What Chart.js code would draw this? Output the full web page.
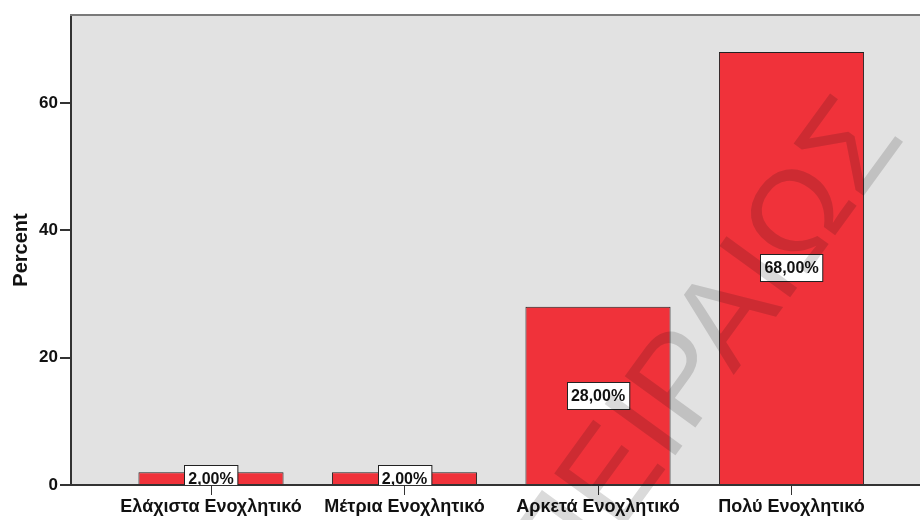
<!DOCTYPE html>
<html>
<head>
<meta charset="utf-8">
<script src="https://cdn.jsdelivr.net/npm/chart.js@4/dist/chart.umd.min.js"></script>
<style>
  html, body { margin: 0; padding: 0; background: #fff; overflow: hidden; }
  #wrap { width: 920px; height: 520px; position: relative; }
</style>
</head>
<body>
<div id="wrap"><canvas id="chart"></canvas></div>
<script>
// categories and percentages
var categories = ["Ελάχιστα Ενοχλητικό", "Μέτρια Ενοχλητικό", "Αρκετά Ενοχλητικό", "Πολύ Ενοχλητικό"];
var percents = [2, 2, 28, 68];
var yTicks = [0, 20, 40, 60];
var watermark = "ΠΕΙΡΑΙΩΣ";

var FONT = '"Liberation Sans", Arial, sans-serif';

function fmt(v) {
	return v.toFixed(2).replace(".", ",") + "%";
}

// gray plot background + top frame line
var plotFrame = {
	id: "plotFrame",
	beforeDraw: function(chart) {
		var a = chart.chartArea, ctx = chart.ctx;
		ctx.save();
		ctx.fillStyle = "#e2e2e2";
		ctx.fillRect(a.left, a.top, a.right - a.left, a.bottom - a.top);
		ctx.restore();
	},
	afterDraw: function(chart) {
		var a = chart.chartArea, ctx = chart.ctx;
		ctx.save();
		ctx.strokeStyle = "#7a7a7a";
		ctx.lineWidth = 2;
		ctx.beginPath();
		ctx.moveTo(a.left - 1, a.top);
		ctx.lineTo(a.right, a.top);
		ctx.stroke();
		ctx.restore();
	}
};

// white value boxes in the middle of each bar
var valueBoxes = {
	id: "valueBoxes",
	afterDatasetsDraw: function(chart) {
		var a = chart.chartArea, ctx = chart.ctx;
		var meta = chart.getDatasetMeta(0);
		ctx.save();
		ctx.beginPath();
		ctx.rect(a.left, a.top, a.right - a.left, a.bottom - a.top);
		ctx.clip();
		ctx.font = "bold 16px " + FONT;
		ctx.textAlign = "center";
		ctx.textBaseline = "middle";
		meta.data.forEach(function(bar, i) {
			var txt = fmt(percents[i]);
			var cy = (bar.y + bar.base) / 2;
			var w = ctx.measureText(txt).width + 8, h = 27;
			var x0 = Math.round(bar.x - w / 2) + 0.5, y0 = Math.round(cy - h / 2) + 0.5;
			ctx.fillStyle = "#fff";
			ctx.fillRect(x0, y0, w, h);
			ctx.strokeStyle = "#222";
			ctx.lineWidth = 1;
			ctx.strokeRect(x0, y0, w, h);
			ctx.fillStyle = "#111";
			ctx.fillText(txt, bar.x, cy + 1);
		});
		ctx.restore();
	}
};

// diagonal watermark across the plot
var stamp = {
	id: "stamp",
	afterDraw: function(chart) {
		var ctx = chart.ctx;
		ctx.save();
		ctx.globalCompositeOperation = "multiply";
		ctx.translate(707, 352);
		ctx.rotate(-54 * Math.PI / 180);
		ctx.font = "127px " + FONT;
		ctx.textAlign = "center";
		ctx.textBaseline = "middle";
		ctx.fillStyle = "rgb(218,218,218)";
		ctx.fillText(watermark, 0, 0);
		ctx.restore();
	}
};

new Chart(document.getElementById("chart"), {
	type: "bar",
	data: {
		datasets: [{
			data: percents.map(function(v, i) { return { x: i, y: v }; }),
			backgroundColor: "#f0323a",
			borderColor: "#222",
			borderWidth: 1,
			barPercentage: 0.75,
			categoryPercentage: 1
		}]
	},
	options: {
		responsive: true,
		maintainAspectRatio: false,
		animation: false,
		layout: { padding: { top: 15, right: 0, left: 0, bottom: 0 } },
		plugins: { legend: { display: false }, tooltip: { enabled: false } },
		scales: {
			x: {
				type: "linear",
				offset: false,
				min: -0.7235,
				max: 3.664,
				afterBuildTicks: function(s) { s.ticks = categories.map(function(c, i) { return { value: i }; }); },
				afterFit: function(s) { s.height = 35; },
				grid: { drawOnChartArea: false, offset: false, tickLength: 10, color: "#333" },
				border: { color: "#333", width: 2 },
				ticks: {
					autoSkip: false,
					maxRotation: 0,
					padding: 1,
					color: "#111",
					font: { family: FONT, size: 18, weight: "bold" },
					callback: function(v) { return categories[v]; }
				}
			},
			y: {
				min: 0,
				max: 73.8,
				afterBuildTicks: function(s) { s.ticks = yTicks.map(function(v) { return { value: v }; }); },
				afterFit: function(s) { s.width = 71; },
				grid: { drawOnChartArea: false, tickLength: 11, color: "#333", lineWidth: 2 },
				border: { color: "#333", width: 2 },
				ticks: {
					padding: 2,
					color: "#111",
					font: { family: FONT, size: 17, weight: "bold" }
				},
				title: {
					display: true,
					text: "Percent",
					color: "#111",
					padding: { top: 9, bottom: 0 },
					font: { family: FONT, size: 20, weight: "bold" }
				}
			}
		}
	},
	plugins: [plotFrame, valueBoxes, stamp]
});
</script>
</body>
</html>
